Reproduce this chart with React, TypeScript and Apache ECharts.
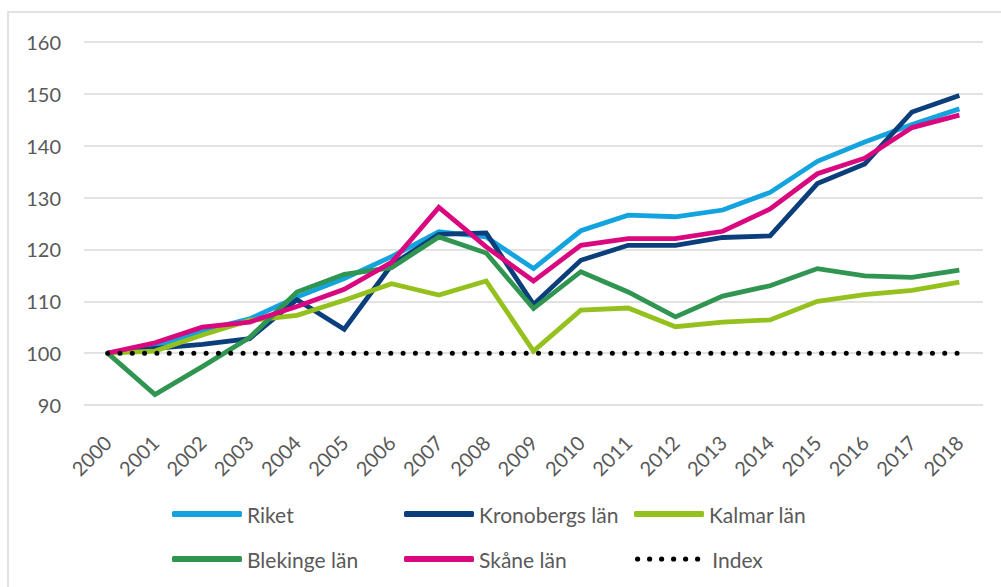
import React, { useEffect, useRef } from "react";
import * as echarts from "echarts";

const years = ["2000","2001","2002","2003","2004","2005","2006","2007","2008","2009","2010","2011","2012","2013","2014","2015","2016","2017","2018"];
const riket = [100, 101.3, 104.3, 106.6, 110.8, 114.4, 118.6, 123.4, 122.4, 116.3, 123.6, 126.6, 126.3, 127.6, 131.0, 137.0, 140.7, 144.1, 147.1];
const kronoberg = [100, 100.9, 101.7, 102.8, 110.3, 104.6, 117.0, 122.9, 123.2, 109.4, 117.9, 120.8, 120.8, 122.3, 122.6, 132.7, 136.5, 146.5, 149.7];
const kalmar = [100, 100.4, 103.5, 106.3, 107.3, 110.2, 113.4, 111.2, 113.9, 100.4, 108.3, 108.7, 105.1, 106.0, 106.4, 110.0, 111.3, 112.1, 113.7];
const blekinge = [100, 92.0, 97.4, 103.0, 111.8, 115.2, 116.5, 122.4, 119.3, 108.6, 115.7, 111.8, 107.0, 111.0, 113.0, 116.3, 114.9, 114.6, 116.0];
const skane = [100, 102.0, 105.0, 106.0, 109.0, 112.3, 117.5, 128.1, 120.5, 113.9, 120.8, 122.1, 122.1, 123.5, 127.8, 134.6, 137.6, 143.5, 145.9];
const indexLine = [100,100,100,100,100,100,100,100,100,100,100,100,100,100,100,100,100,100,100];
const yTicks = [90, 100, 110, 120, 130, 140, 150, 160];

const names = ["Riket", "Kronobergs län", "Kalmar län", "Blekinge län", "Skåne län", "Index"];
const colors = ["#13A3DE", "#0B3F7C", "#95C11F", "#2F9550", "#D9087F", "#000000"];
const dataSets = [riket, kronoberg, kalmar, blekinge, skane, indexLine];

function dotsPath(n: number, r: number, step: number) {
  let d = "path://";
  for (let k = 0; k < n; k++) {
    const cx = r + k * step;
    d += `M${cx - r},${r}a${r},${r} 0 1,0 ${2 * r},0a${r},${r} 0 1,0 ${-2 * r},0Z`;
  }
  return d;
}

export default function App() {
  const ref = useRef<HTMLDivElement>(null);
  useEffect(() => {
    const chart = echarts.init(ref.current!, null, { renderer: "svg" });
    const font = "Lato, 'Open Sans', sans-serif";
    const series = names.map((n, i) => ({
      name: n,
      type: "line",
      data: dataSets[i],
      symbol: "none",
      color: colors[i],
      z: 2 + i,
      lineStyle: i === 5
        ? { color: colors[i], width: 5, type: [0.01, 12.3], cap: "round" }
        : { color: colors[i], width: 4.8, cap: "butt", join: "miter" },
    }));
    const legendPos = [
      [172, 515], [404, 515], [634, 515],
      [172, 560], [404, 560], [635, 560],
    ];
    const dotIcon = dotsPath(6, 2.6, 12);
    const legends = names.map((n, i) => ({
      data: [{ name: n, icon: i === 5 ? dotIcon : "roundRect", itemStyle: { color: colors[i] } }],
      left: legendPos[i][0],
      top: legendPos[i][1] - 14,
      itemWidth: i === 5 ? 65.2 : 70,
      itemHeight: i === 5 ? 5.2 : 6,
      itemGap: 6,
      padding: 0,
      selectedMode: false,
      textStyle: {
        fontFamily: font, fontSize: 21, color: "#595959", lineHeight: 26,
        padding: i === 5 ? [0, 0, 0, 7] : 0,
      },
    }));
    chart.setOption({
      animation: false,
      backgroundColor: "#ffffff",
      graphic: [
        {
          type: "rect",
          shape: { x: 8, y: 12, width: 1100, height: 700 },
          style: { fill: "none", stroke: "#d9d9d9", lineWidth: 1.5 },
          silent: true,
        },
      ],
      legend: legends,
      grid: { left: 84, right: 18, top: 42, bottom: 182, containLabel: false },
      xAxis: {
        type: "category",
        data: years,
        boundaryGap: true,
        axisLine: { show: false },
        axisTick: { show: false },
        axisLabel: { rotate: 45, margin: 34, fontFamily: font, fontSize: 20, color: "#595959", interval: 0 },
      },
      yAxis: {
        type: "value",
        min: 90,
        max: 160,
        interval: 10,
        axisLine: { show: false },
        axisTick: { show: false },
        axisLabel: {
          margin: 23, fontFamily: font, fontSize: 20, color: "#595959",
          formatter: (v: number) => (yTicks.includes(v) ? String(v) : ""),
        },
        splitLine: { lineStyle: { color: "#d9d9d9", width: 1.5 } },
      },
      series,
    });
    return () => chart.dispose();
  }, []);
  return (
    <div
      ref={ref}
      style={{ position: "absolute", left: 0, top: 0, width: 1001, height: 587, background: "#fff" }}
    />
  );
}
